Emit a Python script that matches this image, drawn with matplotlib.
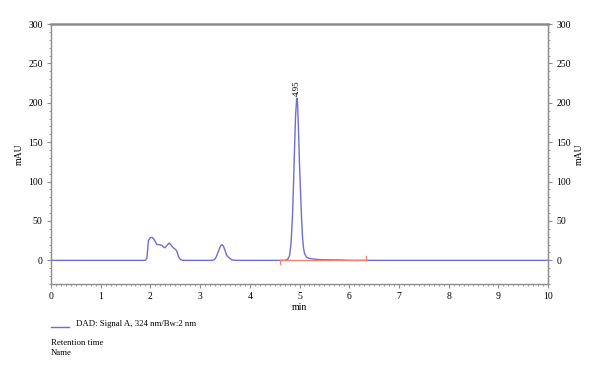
import numpy as np
import matplotlib.pyplot as plt
from matplotlib.ticker import MultipleLocator

t = [0.0, 1.90, 1.93, 1.96, 2.00, 2.04, 2.08, 2.13, 2.18, 2.23, 2.26, 2.29, 2.33,
     2.38, 2.42, 2.46, 2.50, 2.53, 2.56, 2.58, 2.61, 2.64, 2.70, 3.25, 3.29,
     3.33, 3.37, 3.41, 3.44, 3.47, 3.50, 3.53, 3.57, 3.61, 3.66, 3.75, 4.70,
     4.76, 4.80, 4.83, 4.86, 4.88, 4.90, 4.92, 4.94, 4.95, 4.96, 4.98, 5.00,
     5.02, 5.04, 5.06, 5.08, 5.10, 5.14, 5.20, 5.30, 5.45, 5.80, 6.00, 10.0]
sinal = [0.0, 0.0, 3, 25, 29, 29, 26, 20, 20, 19, 17, 16, 19,
         22, 19, 16, 14, 12, 6, 3, 1, 0.2, 0.0, 0.0, 1,
         5, 12, 18, 20, 18, 13, 7, 4, 2, 0.3, 0.0, 0.0,
         1, 6, 22, 58, 98, 142, 182, 203, 206, 200, 165, 122,
         88, 55, 30, 16, 9, 4, 2.5, 1.5, 0.8, 0.5, 0.0, 0.0]

# Linha de base da integracao
base_t = [4.60, 6.33]
base_y = [0.0, 0.0]
pico_t = 4.95
pico_h = 206

plt.rcParams['font.family'] = ['Liberation Serif', 'DejaVu Serif']
plt.rcParams['font.size'] = 7

fig = plt.figure(figsize=(6, 3.77), dpi=100)
ax = fig.add_axes([51/600, 1 - 284/377, 497/600, 260/377])

ax.plot(t, sinal, color='#6e6ed2', lw=1.0, zorder=3)
ax.plot(base_t, base_y, color='#f4846f', lw=1.0, zorder=4)
ax.plot([base_t[0], base_t[0]], [0, -5], color='#f4846f', lw=1.0, zorder=4)
ax.plot([base_t[1], base_t[1]], [0, 5], color='#f4846f', lw=1.0, zorder=4)
ax.text(pico_t, pico_h + 3, '4.95', rotation=90, ha='center', va='bottom', fontsize=6.5)

ax.set_xlim(0, 10)
ax.set_ylim(-30, 300)
ax.xaxis.set_major_locator(MultipleLocator(1))
ax.xaxis.set_minor_locator(MultipleLocator(0.1))
ax.yaxis.set_major_locator(MultipleLocator(50))
ax.yaxis.set_minor_locator(MultipleLocator(10))
ax.set_xlabel('min', labelpad=1)
ax.set_ylabel('mAU', labelpad=3)

for s in ax.spines.values():
    s.set_color('#8c8c8c')
    s.set_linewidth(1.0)
ax.spines['top'].set_linewidth(1.8)
ax.tick_params(which='both', color='#8c8c8c', direction='out')
ax.tick_params(which='major', length=3, width=0.8, pad=3)
ax.tick_params(which='minor', length=1.5, width=0.6)

ax2 = ax.twinx()
ax2.set_ylim(-30, 300)
ax2.yaxis.set_major_locator(MultipleLocator(50))
ax2.yaxis.set_minor_locator(MultipleLocator(10))
ax2.set_ylabel('mAU', labelpad=3)
ax2.tick_params(which='both', color='#8c8c8c', direction='out')
ax2.tick_params(which='major', length=3, width=0.8, pad=3)
ax2.tick_params(which='minor', length=1.5, width=0.6)
for s in ax2.spines.values():
    s.set_visible(False)
ax2.spines['right'].set_visible(True)
ax2.spines['right'].set_color('#8c8c8c')

# Legenda embaixo
fig.lines.append(plt.Line2D([51/600, 69/600], [1 - 327/377, 1 - 327/377],
                            color='#6e6ed2', lw=1.0, transform=fig.transFigure))
fig.text(76/600, 1 - 324/377, 'DAD: Signal A, 324 nm/Bw:2 nm', va='center', fontsize=6.3)
fig.text(51/600, 1 - 343/377, 'Retention time', va='center', fontsize=6.3)
fig.text(51/600, 1 - 353/377, 'Name', va='center', fontsize=6.3)

plt.savefig('out.png', dpi=100)
